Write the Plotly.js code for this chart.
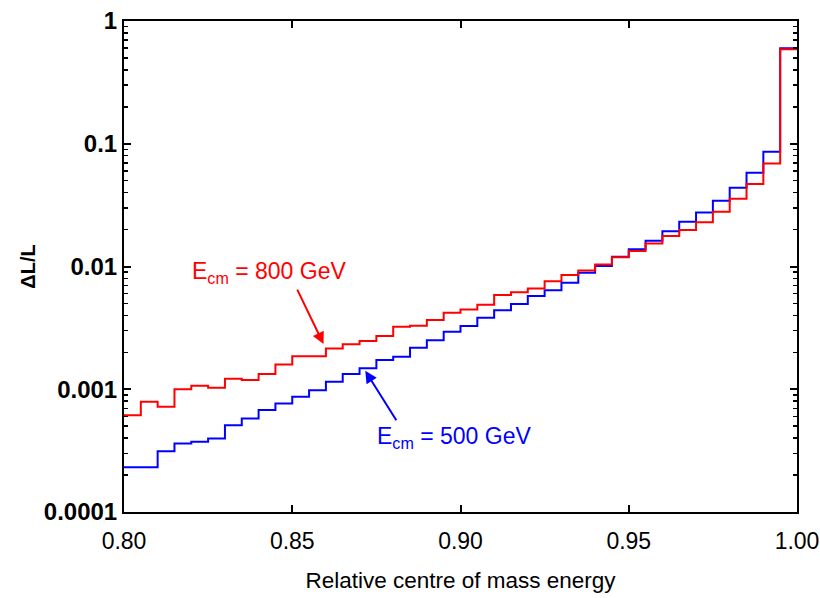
<!DOCTYPE html>
<html>
<head>
<meta charset="utf-8">
<script src="https://cdn.plot.ly/plotly-3.0.1.min.js"></script>
<style>html,body{margin:0;padding:0;background:#fff;}#chart{width:820px;height:598px;}</style>
</head>
<body>
<div id="chart"></div>
<script>
// Bin left edges (bin width 0.005) plus the final edge at 1.00
var binEdges = [0.800,0.805,0.810,0.815,0.820,0.825,0.830,0.835,0.840,0.845,
                0.850,0.855,0.860,0.865,0.870,0.875,0.880,0.885,0.890,0.895,
                0.900,0.905,0.910,0.915,0.920,0.925,0.930,0.935,0.940,0.945,
                0.950,0.955,0.960,0.965,0.970,0.975,0.980,0.985,0.990,0.995,1.000];

// E_cm = 800 GeV (red)
var lumi800 = [6.15e-4,7.9e-4,7.2e-4,1.00e-3,1.07e-3,1.03e-3,1.22e-3,1.19e-3,1.33e-3,1.59e-3,
               1.86e-3,1.86e-3,2.15e-3,2.33e-3,2.47e-3,2.72e-3,3.23e-3,3.29e-3,3.66e-3,4.20e-3,
               4.47e-3,4.87e-3,5.85e-3,6.18e-3,6.62e-3,7.60e-3,8.51e-3,9.29e-3,1.04e-2,1.19e-2,
               1.34e-2,1.54e-2,1.77e-2,1.98e-2,2.29e-2,2.79e-2,3.56e-2,4.69e-2,6.92e-2,0.588];

// E_cm = 500 GeV (blue)
var lumi500 = [2.31e-4,2.31e-4,3.13e-4,3.61e-4,3.73e-4,3.97e-4,5.10e-4,5.78e-4,6.76e-4,7.66e-4,
               8.68e-4,9.83e-4,1.15e-3,1.33e-3,1.48e-3,1.73e-3,1.84e-3,2.18e-3,2.51e-3,2.94e-3,
               3.27e-3,3.82e-3,4.41e-3,4.96e-3,5.74e-3,6.42e-3,7.37e-3,8.89e-3,1.01e-2,1.20e-2,
               1.38e-2,1.62e-2,1.94e-2,2.31e-2,2.76e-2,3.43e-2,4.38e-2,5.80e-2,8.60e-2,0.599];

var xTickVals = [0.80,0.85,0.90,0.95,1.00];
var xTickText = ['0.80','0.85','0.90','0.95','1.00'];
var yTickVals = [0.0001,0.001,0.01,0.1,1];
var yTickText = ['0.0001','0.001','0.01','0.1','1'];

function stepY(v){ return v.concat([v[v.length-1]]); }

var font = 'Liberation Sans, Arial, Helvetica, sans-serif';

var traces = [
  {x: binEdges, y: stepY(lumi500), type: 'scatter', mode: 'lines',
   line: {shape: 'hv', color: '#0000ff', width: 2}, name: '500 GeV'},
  {x: binEdges, y: stepY(lumi800), type: 'scatter', mode: 'lines',
   line: {shape: 'hv', color: '#ff0000', width: 2}, name: '800 GeV'}
];

var layout = {
  width: 820, height: 598,
  margin: {l: 124, r: 23, t: 21, b: 86},
  paper_bgcolor: '#fff', plot_bgcolor: '#fff',
  showlegend: false,
  font: {family: font, color: '#000'},
  xaxis: {
    range: [0.8, 1.0], tickvals: xTickVals, ticktext: xTickText,
    ticks: 'inside', ticklen: 7, tickwidth: 2, tickcolor: '#000',
    showline: true, linewidth: 2, linecolor: '#000', mirror: 'allticks',
    showgrid: false, zeroline: false, ticklabelstandoff: 7,
    tickfont: {size: 23, family: font, color: '#000'},
    title: {text: 'Relative centre of mass energy', font: {size: 22.5, family: font, color: '#000'}, standoff: 20}
  },
  yaxis: {
    type: 'log', range: [-4, 0], tickvals: yTickVals, ticktext: yTickText,
    ticks: 'inside', ticklen: 7, tickwidth: 2, tickcolor: '#000',
    minor: {ticks: 'inside', ticklen: 4, tickwidth: 1.5, tickcolor: '#000', dtick: 'D1', showgrid: false},
    showline: true, linewidth: 2, linecolor: '#000', mirror: 'allticks',
    showgrid: false, zeroline: false,
    tickfont: {size: 24, family: font, color: '#000', weight: 'bold'},
    title: {text: 'ΔL/L', font: {size: 20, family: font, color: '#000', weight: 'bold'}, standoff: 3}
  },
  annotations: [
    {xref: 'x', yref: 'y', x: 0.8196, y: -2.046, xanchor: 'left', yanchor: 'middle', showarrow: false,
     text: 'E<sub>cm</sub> = 800 GeV', font: {size: 23, family: font, color: '#ff0000'}},
    {xref: 'x', yref: 'y', x: 0.8747, y: -3.39, xanchor: 'left', yanchor: 'middle', showarrow: false,
     text: 'E<sub>cm</sub> = 500 GeV', font: {size: 23, family: font, color: '#0000ff'}},
    {xref: 'x', yref: 'y', x: 0.8593, y: -2.632, text: '', showarrow: true,
     ax: -27, ay: -56, arrowhead: 2, arrowsize: 1.2, arrowwidth: 2, arrowcolor: '#ff0000'},
    {xref: 'x', yref: 'y', x: 0.8717, y: -2.850, text: '', showarrow: true,
     ax: 32, ay: 51, arrowhead: 2, arrowsize: 1.2, arrowwidth: 2, arrowcolor: '#0000ff'}
  ]
};

Plotly.newPlot('chart', traces, layout, {staticPlot: true, displayModeBar: false});
</script>
</body>
</html>
